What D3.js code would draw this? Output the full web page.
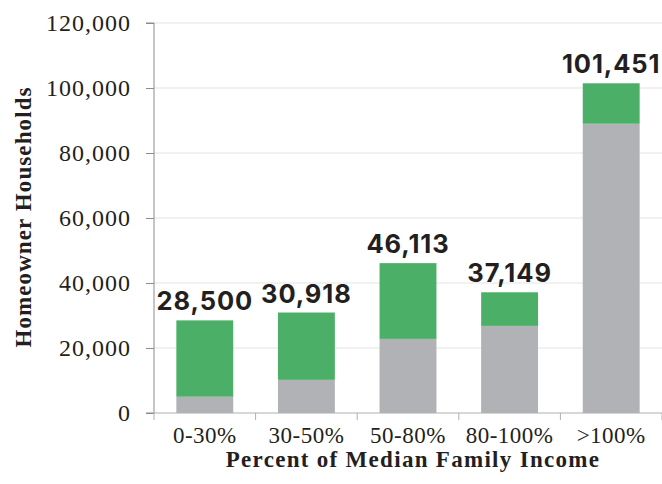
<!DOCTYPE html>
<html>
<head>
<meta charset="utf-8">
<script src="https://cdn.jsdelivr.net/npm/d3@7"></script>
<style>
  body { margin: 0; background: #fff; }
  svg { display: block; }
</style>
</head>
<body>
<svg id="chart" width="662" height="484"></svg>
<script>
// --- Data ---
const categories = ["0-30%", "30-50%", "50-80%", "80-100%", ">100%"];
const grayValues = [5000, 10200, 22800, 26800, 89000];
const greenValues = [23500, 20718, 23313, 10349, 12451];
const totalLabels = [28500, 30918, 46113, 37149, 101451];
const yTicks = [0, 20000, 40000, 60000, 80000, 100000, 120000];

// --- Layout ---
const svg = d3.select("#chart");
const width = +svg.attr("width"),
  height = +svg.attr("height");
const margin = { top: 23, right: 0, bottom: 71, left: 154 };
const innerW = width - margin.left - margin.right,
  innerH = height - margin.top - margin.bottom;

const g = svg
  .append("g")
  .attr("transform", `translate(${margin.left},${margin.top})`);

const x = d3
  .scaleBand()
  .domain(categories)
  .range([0, innerW])
  .paddingInner(0.44)
  .paddingOuter(0.22);
const y = d3.scaleLinear().domain([0, 120000]).range([innerH, 0]);

const rows = categories.map((c, i) => ({
  cat: c,
  gray: grayValues[i],
  green: greenValues[i],
  total: totalLabels[i],
}));
const stack = d3.stack().keys(["gray", "green"])(rows);
const colors = { gray: "#b1b2b5", green: "#4caf68" };
const serif = "'Liberation Serif', serif";

// gridlines
g.append("g")
  .selectAll("line")
  .data(yTicks.filter((t) => t > 0))
  .join("line")
  .attr("x1", 0)
  .attr("x2", innerW)
  .attr("y1", (d) => y(d))
  .attr("y2", (d) => y(d))
  .attr("stroke", "#e3e3e3")
  .attr("stroke-width", 1.2);

// bars
g.append("g")
  .selectAll("g")
  .data(stack)
  .join("g")
  .attr("fill", (s) => colors[s.key])
  .selectAll("rect")
  .data((s) => s)
  .join("rect")
  .attr("x", (d) => x(d.data.cat))
  .attr("width", x.bandwidth())
  .attr("y", (d) => y(d[1]))
  .attr("height", (d) => y(d[0]) - y(d[1]));

// total labels
g.append("g")
  .selectAll("text")
  .data(rows)
  .join("text")
  .attr("x", (d) => x(d.cat) + x.bandwidth() / 2)
  .attr("y", (d) => y(d.total) - 10)
  .attr("text-anchor", "middle")
  .attr("font-family", "Inter, sans-serif")
  .attr("font-weight", 700)
  .attr("font-size", 25.5)
  .attr("letter-spacing", 0.9)
  .attr("fill", "#231f20")
  .text((d) => d3.format(",")(d.total));

// y axis
const yAxis = g
  .append("g")
  .call(
    d3.axisLeft(y)
      .tickValues(yTicks)
      .tickFormat(d3.format(","))
      .tickSize(8)
      .tickPadding(15)
  );
yAxis.select(".domain").attr("stroke", "#8c8c8c").attr("d", `M-8,0H0V${innerH}H-8`);
yAxis.selectAll(".tick line").attr("stroke", "#8c8c8c");
yAxis
  .selectAll("text")
  .attr("font-family", serif)
  .attr("font-size", 24)
  .attr("letter-spacing", 1)
  .attr("fill", "#231f20");

// x axis
const step = x.step();
const xb = g.append("g").attr("transform", `translate(0,${innerH})`);
xb.append("line")
  .attr("x1", 0)
  .attr("x2", innerW)
  .attr("stroke", "#b0b0b0")
  .attr("stroke-width", 1.2);
xb.selectAll(".sep")
  .data(d3.range(categories.length + 1))
  .join("line")
  .attr("x1", (i) => i * step)
  .attr("x2", (i) => i * step)
  .attr("y1", 0)
  .attr("y2", 7)
  .attr("stroke", "#b0b0b0");
xb.selectAll(".lbl")
  .data(categories)
  .join("text")
  .attr("x", (d) => x(d) + x.bandwidth() / 2)
  .attr("y", 30)
  .attr("text-anchor", "middle")
  .attr("font-family", serif)
  .attr("font-size", 23)
  .attr("letter-spacing", 0.5)
  .attr("fill", "#231f20")
  .text((d) => d);

// axis titles
svg.append("text")
  .attr("x", margin.left + innerW / 2 + 5)
  .attr("y", 467)
  .attr("text-anchor", "middle")
  .attr("font-family", serif)
  .attr("font-weight", "bold")
  .attr("font-size", 23)
  .attr("letter-spacing", 1.3)
  .attr("fill", "#231f20")
  .text("Percent of Median Family Income");

svg.append("text")
  .attr("transform", "translate(31,217) rotate(-90)")
  .attr("text-anchor", "middle")
  .attr("font-family", serif)
  .attr("font-weight", "bold")
  .attr("font-size", 23)
  .attr("letter-spacing", 1.1)
  .attr("fill", "#231f20")
  .text("Homeowner Households");
</script>
</body>
</html>
